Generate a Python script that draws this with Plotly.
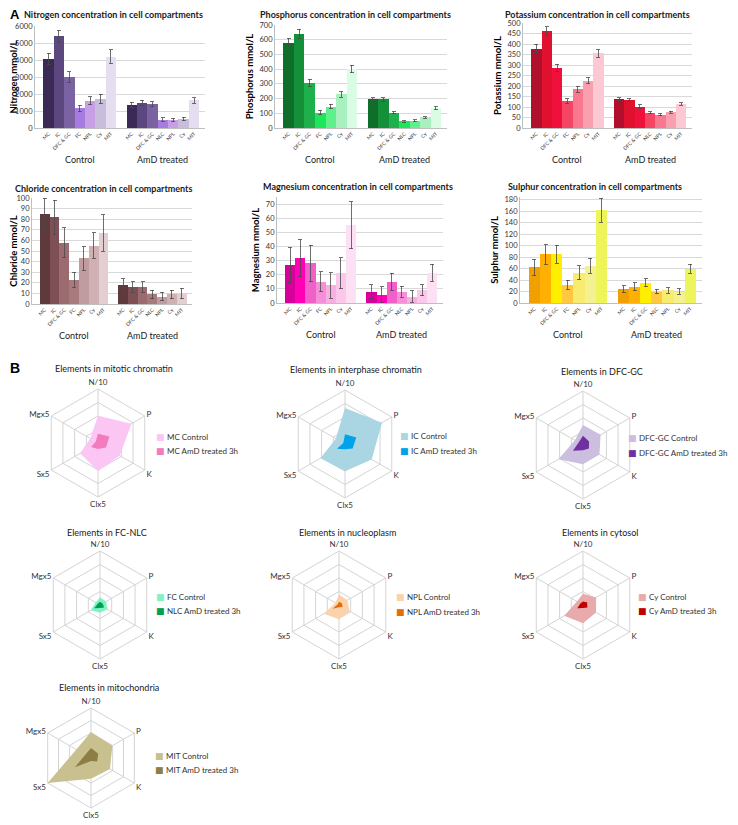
import plotly.graph_objects as go

# The page body has an 8px default margin, so the figure is drawn 8px in from the corner.
OFF = 8
W, H = 738 - OFF, 825 - OFF
FONT = "Lato"

ctrl_labels = ["MC", "IC", "DFC & GC", "FC", "NPL", "Cy", "MIT"]
amd_labels = ["MC", "IC", "DFC & GC", "NLC", "NPL", "Cy", "MIT"]

# Bar data: control then AmD treated
N_ctrl = [4080, 5400, 3000, 1150, 1600, 1700, 4200]
N_ctrl_err = [330, 350, 300, 200, 230, 280, 400]
N_amd = [1370, 1480, 1390, 500, 470, 540, 1620]
N_amd_err = [150, 150, 150, 90, 100, 100, 150]

P_ctrl = [580, 640, 305, 105, 145, 228, 400]
P_ctrl_err = [30, 30, 25, 15, 15, 20, 25]
P_amd = [197, 195, 105, 45, 50, 72, 135]
P_amd_err = [10, 12, 8, 6, 7, 6, 10]

K_ctrl = [378, 462, 285, 128, 185, 225, 355]
K_ctrl_err = [20, 20, 18, 12, 15, 15, 18]
K_amd = [138, 132, 102, 72, 63, 75, 115]
K_amd_err = [6, 8, 8, 5, 5, 5, 6]

Cl_ctrl = [85, 82, 58, 23, 43, 55, 67]
Cl_ctrl_err = [15, 16, 14, 7, 11, 12, 17]
Cl_amd = [18, 16, 16, 9, 7, 9, 10]
Cl_amd_err = [6, 5, 5, 4, 4, 4, 5]

Mg_ctrl = [27, 32, 28, 15, 12.5, 21, 55]
Mg_ctrl_err = [12.5, 13, 13, 7, 9, 11, 16.5]
Mg_amd = [8, 6, 15, 8, 4.5, 9, 21.5]
Mg_amd_err = [5, 5.5, 6, 4, 4, 4, 6]

S_ctrl = [62, 85, 85, 32, 53, 65, 162]
S_ctrl_err = [14, 17, 16, 8, 12, 13, 21]
S_amd = [24, 28, 35, 20, 22, 20, 60]
S_amd_err = [6, 7, 7, 4, 5, 5, 8]

N_colors = ["#3b2a55", "#5c477f", "#7b62a3", "#a77ce0", "#c89ee6", "#c8bedc", "#e4def0"]
P_colors = ["#0f6e2a", "#15903a", "#1eb14b", "#1ee65a", "#5ef08a", "#a8f0bd", "#dafbe4"]
K_colors = ["#b0102c", "#e0102f", "#f0103c", "#f54565", "#f7788f", "#f9a0b0", "#fbc8d3"]
Cl_colors = ["#5e3a3d", "#7e5056", "#9c6b70", "#a87a7e", "#c09ba0", "#cfb0b3", "#e3cfd1"]
Mg_colors = ["#d6009a", "#ff00b4", "#f060c8", "#f590d8", "#f8b0e2", "#fbc8ec", "#fde0f4"]
S_colors = ["#f0a000", "#ffb000", "#ffee00", "#ffc840", "#f8ec70", "#f5f090", "#eef55a"]

def fx(px):
    return (px - OFF) / W

def fy(py):
    return 1 - (py - OFF) / H

fig = go.Figure()
annotations = []

bar_panels = [
    ("Nitrogen concentration in cell compartments", "Nitrogen mmol/L", N_ctrl, N_ctrl_err, N_amd, N_amd_err, N_colors, [0, 6000], 1000, (35, 205), (26, 128), (114, 15)),
    ("Phosphorus concentration in cell compartments", "Phosphorus mmol/L", P_ctrl, P_ctrl_err, P_amd, P_amd_err, P_colors, [0, 700], 100, (275, 447), (25, 128), (355, 15)),
    ("Potassium concentration in cell compartments", "Potassium mmol/L", K_ctrl, K_ctrl_err, K_amd, K_amd_err, K_colors, [0, 500], 50, (523, 692), (23, 128), (597, 14)),
    ("Chloride concentration in cell compartments", "Chloride mmol/L", Cl_ctrl, Cl_ctrl_err, Cl_amd, Cl_amd_err, Cl_colors, [0, 100], 10, (32, 192), (198, 304), (104, 188)),
    ("Magnesium concentration in cell compartments", "Magnesium mmol/L", Mg_ctrl, Mg_ctrl_err, Mg_amd, Mg_amd_err, Mg_colors, [0, 75], 10, (277, 443), (197, 303), (358, 187)),
    ("Sulphur concentration in cell compartments", "Sulphur mmol/L", S_ctrl, S_ctrl_err, S_amd, S_amd_err, S_colors, [0, 185], 20, (520, 702), (197, 303), (595, 187)),
]

positions = list(range(7)) + [i + 8 for i in range(7)]
ticktext = ctrl_labels + amd_labels

for k, (title, ylab, c, ce, a, ae, cols, yr, dt, xd, yd, tpos) in enumerate(bar_panels):
    idx = k + 1
    xa = "x" if idx == 1 else f"x{idx}"
    ya = "y" if idx == 1 else f"y{idx}"
    fig.add_trace(go.Bar(
        x=positions, y=c + a,
        marker=dict(color=cols + cols, line=dict(width=0)),
        error_y=dict(type="data", array=ce + ae, color="#4a4a4a", thickness=0.8, width=2),
        width=1.0, xaxis=xa, yaxis=ya, showlegend=False, hoverinfo="skip",
    ))
    fig.update_layout(**{
        ("xaxis" if idx == 1 else f"xaxis{idx}"): dict(
            domain=[fx(xd[0]), fx(xd[1])], anchor=ya, range=[-1.3, 15.05], automargin=False,
            tickvals=positions, ticktext=ticktext, tickangle=-45,
            tickfont=dict(size=5, color="#404040", family=FONT),
            showgrid=False, zeroline=False, showline=True, linecolor="#bfbfbf", linewidth=1,
            ticks="", fixedrange=True,
        ),
        ("yaxis" if idx == 1 else f"yaxis{idx}"): dict(
            domain=[fy(yd[1]), fy(yd[0])], anchor=xa, range=yr, dtick=dt, automargin=False,
            tickfont=dict(size=7.5, color="#333", family=FONT),
            showgrid=True, gridcolor="#d9d9d9", gridwidth=1, zeroline=False,
            showline=True, linecolor="#bfbfbf", linewidth=1, ticks="",
            title=dict(text=f"<b>{ylab}</b>", font=dict(size=9.5, color="#000", family=FONT), standoff=4),
        ),
    })
    annotations.append(dict(text=f"<b>{title}</b>", x=fx(tpos[0]), y=fy(tpos[1]), xref="paper", yref="paper",
                            showarrow=False, xanchor="center", yanchor="middle",
                            font=dict(size=9, color="#1a1a1a", family=FONT)))
    grp_y = fy(yd[1] + 31)
    annotations.append(dict(text="Control", x=3, y=grp_y, xref=xa, yref="paper", showarrow=False,
                            xanchor="center", yanchor="middle", font=dict(size=9, color="#1a1a1a", family=FONT)))
    annotations.append(dict(text="AmD treated", x=11, y=grp_y, xref=xa, yref="paper", showarrow=False,
                            xanchor="center", yanchor="middle", font=dict(size=9, color="#1a1a1a", family=FONT)))

# Radar charts
radar_axes = ["N/10", "P", "K", "Clx5", "Sx5", "Mgx5"]

def radar_vals(i, group):
    if group == "ctrl":
        return [N_ctrl[i] / 10, P_ctrl[i], K_ctrl[i], Cl_ctrl[i] * 5, S_ctrl[i] * 5, Mg_ctrl[i] * 5]
    return [N_amd[i] / 10, P_amd[i], K_amd[i], Cl_amd[i] * 5, S_amd[i] * 5, Mg_amd[i] * 5]

radar_panels = [
    # title, idx, names, colours, centre px, radius, title pos, legend (square x, first row y, row gap)
    ("Elements in mitotic chromatin", 0, "MC Control", "MC AmD treated 3h", "#fcc6f4", "#f27bbd", (98, 443), 54, (114, 368), (160, 437, 14)),
    ("Elements in interphase chromatin", 1, "IC Control", "IC AmD treated 3h", "#a9d6e2", "#00a3ea", (345, 444), 54, (356, 369), (404, 436, 15)),
    ("Elements in DFC-GC", 2, "DFC-GC Control", "DFC-GC AmD treated 3h", "#cbbede", "#7030a0", (583, 445), 54, (602, 371), (632, 438, 15)),
    ("Elements in FC-NLC", 3, "FC Control", "NLC AmD treated 3h", "#80f2c4", "#00a050", (100, 605), 54, (107, 532), (160, 597, 14)),
    ("Elements in nucleoplasm", 4, "NPL Control", "NPL AmD treated 3h", "#fbd2ab", "#e46c0a", (339, 605), 54, (347, 532), (400, 597, 15)),
    ("Elements in cytosol", 5, "Cy Control", "Cy AmD treated 3h", "#e8aaaa", "#c00000", (583, 605), 54, (600, 532), (642, 597, 14)),
    ("Elements in mitochondria", 6, "MIT Control", "MIT AmD treated 3h", "#c9c08f", "#8b7f45", (91, 758), 50, (109, 687), (159, 756, 14)),
]

RMAX = 810
for k, (title, ci, cn, an, cc, ac, cen, R, tp, lg) in enumerate(radar_panels):
    pid = "polar" if k == 0 else f"polar{k + 1}"
    for name, grp, col in [(cn, "ctrl", cc), (an, "amd", ac)]:
        fig.add_trace(go.Scatterpolar(
            r=radar_vals(ci, grp), theta=radar_axes, fill="toself", fillcolor=col,
            mode="lines", line=dict(width=0, color=col), name=name, subplot=pid,
            showlegend=False, hoverinfo="skip",
        ))
    fig.update_layout(**{
        pid: dict(
            domain=dict(x=[fx(cen[0] - R), fx(cen[0] + R)], y=[fy(cen[1] + R), fy(cen[1] - R)]),
            gridshape="linear", bgcolor="rgba(0,0,0,0)",
            angularaxis=dict(rotation=90, direction="clockwise", categoryorder="array", categoryarray=radar_axes,
                             tickfont=dict(size=8, color="#333", family=FONT), gridcolor="#d4d4d4",
                             linecolor="#d4d4d4", ticks="", showline=True),
            radialaxis=dict(range=[0, RMAX], tickvals=[RMAX / 4, RMAX / 2, RMAX * 3 / 4, RMAX], showticklabels=False,
                            ticks="", showline=False, gridcolor="#d4d4d4"),
        ),
    })
    annotations.append(dict(text=title, x=fx(tp[0]), y=fy(tp[1]), xref="paper", yref="paper", showarrow=False,
                            xanchor="center", yanchor="middle", font=dict(size=9, color="#1a1a1a", family=FONT)))
    # legend: coloured square + label
    for j, (name, col) in enumerate([(cn, cc), (an, ac)]):
        yy = lg[1] + j * lg[2]
        annotations.append(dict(text="■", x=fx(lg[0]), y=fy(yy), xref="paper", yref="paper", showarrow=False,
                                xanchor="center", yanchor="middle",
                                font=dict(size=9, color=col, family="DejaVu Sans")))
        annotations.append(dict(text=name, x=fx(lg[0] + 5), y=fy(yy), xref="paper", yref="paper", showarrow=False,
                                xanchor="left", yanchor="middle",
                                font=dict(size=8, color="#333", family=FONT)))

annotations.append(dict(text="<b>A</b>", x=fx(8), y=fy(15), xref="paper", yref="paper", showarrow=False,
                        xanchor="left", yanchor="middle", font=dict(size=13, color="#000", family="Liberation Sans")))
annotations.append(dict(text="<b>B</b>", x=fx(8), y=fy(368), xref="paper", yref="paper", showarrow=False,
                        xanchor="left", yanchor="middle", font=dict(size=14, color="#000", family="Liberation Sans")))

fig.update_layout(
    width=W, height=H, margin=dict(l=0, r=0, t=0, b=0, autoexpand=False),
    paper_bgcolor="white", plot_bgcolor="white", showlegend=False,
    bargap=0, annotations=annotations, font=dict(family=FONT),
)

fig.write_html("out.html")
